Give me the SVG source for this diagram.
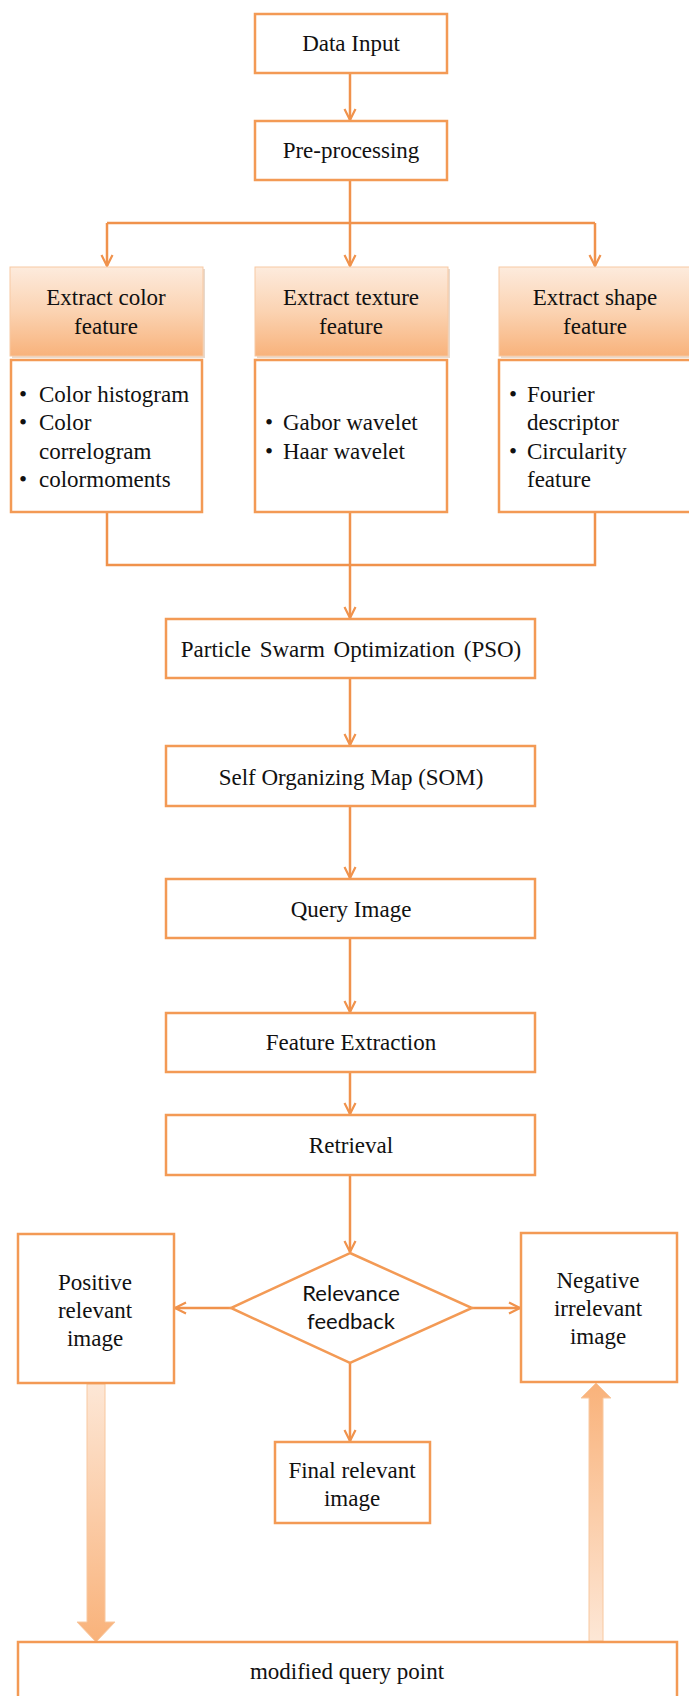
<svg xmlns="http://www.w3.org/2000/svg" width="689" height="1696" viewBox="0 0 689 1696">
<style>
.box{fill:#fff;stroke:#F39A55;stroke-width:2.5}
.hdr{stroke:#F7C9A3;stroke-width:1}
.t{font-family:"Liberation Serif","Times New Roman",serif;font-size:23px;fill:#111}
.c{text-anchor:middle}
.s{font-family:Lato,"Open Sans",sans-serif;font-size:22px;fill:#111;text-anchor:middle}
.ln{fill:none;stroke:#F0924C;stroke-width:2.5}
</style>
<defs>
<marker id="arr" viewBox="0 0 14 14" refX="12.5" refY="7" markerWidth="14" markerHeight="14" markerUnits="userSpaceOnUse" orient="auto">
<path d="M1.5,1.5 L12.5,7 L1.5,12.5" fill="none" stroke="#F0924C" stroke-width="2.2"/>
</marker>
<linearGradient id="hg" x1="0" y1="0" x2="0" y2="1">
<stop offset="0" stop-color="#FDEBDD"/>
<stop offset="0.5" stop-color="#FBD3B2"/>
<stop offset="1" stop-color="#F8B27B"/>
</linearGradient>
<linearGradient id="dn" x1="0" y1="0" x2="0" y2="1">
<stop offset="0" stop-color="#FDE7D6"/>
<stop offset="1" stop-color="#F9B27A"/>
</linearGradient>
<linearGradient id="up" x1="0" y1="1" x2="0" y2="0">
<stop offset="0" stop-color="#FDE7D6"/>
<stop offset="1" stop-color="#F9B27A"/>
</linearGradient>
</defs>

<g id="connectors">
<line class="ln" x1="350" y1="73" x2="350" y2="120" marker-end="url(#arr)"/>
<polyline class="ln" points="350,180 350,223"/>
<polyline class="ln" points="107,223 595,223"/>
<line class="ln" x1="107" y1="223" x2="107" y2="266" marker-end="url(#arr)"/>
<line class="ln" x1="350" y1="223" x2="350" y2="266" marker-end="url(#arr)"/>
<line class="ln" x1="595" y1="223" x2="595" y2="266" marker-end="url(#arr)"/>
<polyline class="ln" points="107,512 107,565 595,565 595,512"/>
<line class="ln" x1="350" y1="512" x2="350" y2="565"/>
<line class="ln" x1="350" y1="565" x2="350" y2="618" marker-end="url(#arr)"/>
<line class="ln" x1="350" y1="678" x2="350" y2="745" marker-end="url(#arr)"/>
<line class="ln" x1="350" y1="806" x2="350" y2="878" marker-end="url(#arr)"/>
<line class="ln" x1="350" y1="938" x2="350" y2="1012" marker-end="url(#arr)"/>
<line class="ln" x1="350" y1="1072" x2="350" y2="1114" marker-end="url(#arr)"/>
<line class="ln" x1="350" y1="1175" x2="350" y2="1252" marker-end="url(#arr)"/>
<line class="ln" x1="231" y1="1308" x2="175" y2="1308" stroke-width="3" marker-end="url(#arr)"/>
<line class="ln" x1="472" y1="1308" x2="520" y2="1308" stroke-width="3" marker-end="url(#arr)"/>
<line class="ln" x1="350" y1="1363" x2="350" y2="1441" marker-end="url(#arr)"/>
<path d="M87,1384 L105,1384 L105,1622 L115,1622 L96,1642 L77,1622 L87,1622 Z" fill="url(#dn)" stroke="#F8C8A0" stroke-width="1"/>
<path d="M589,1641 L603,1641 L603,1398 L611,1398 L596,1383 L581,1398 L589,1398 Z" fill="url(#up)" stroke="#F8C8A0" stroke-width="1"/>
</g>

<g id="data-input">
<rect class="box" x="255" y="14" width="192" height="59"/>
<text class="t c" x="351" y="51">Data Input</text>
</g>
<g id="pre-processing">
<rect class="box" x="255" y="121" width="192" height="59"/>
<text class="t c" x="351" y="158">Pre-processing</text>
</g>

<g id="color-feature">
<rect x="12" y="269" width="193" height="89" fill="#E8D9CC"/>
<rect class="hdr" x="10" y="267" width="193" height="89" fill="url(#hg)"/>
<text class="t c" x="106" y="305">Extract color</text>
<text class="t c" x="106" y="334">feature</text>
<rect class="box" x="11" y="360" width="191" height="152"/>
<text class="t" x="19" y="402">•</text><text class="t" x="39" y="402">Color histogram</text>
<text class="t" x="19" y="430">•</text><text class="t" x="39" y="430">Color</text>
<text class="t" x="39" y="459">correlogram</text>
<text class="t" x="19" y="487">•</text><text class="t" x="39" y="487">colormoments</text>
</g>

<g id="texture-feature">
<rect x="257" y="269" width="193" height="89" fill="#E8D9CC"/>
<rect class="hdr" x="255" y="267" width="193" height="89" fill="url(#hg)"/>
<text class="t c" x="351" y="305">Extract texture</text>
<text class="t c" x="351" y="334">feature</text>
<rect class="box" x="255" y="360" width="192" height="152"/>
<text class="t" x="265" y="430">•</text><text class="t" x="283" y="430">Gabor wavelet</text>
<text class="t" x="265" y="459">•</text><text class="t" x="283" y="459">Haar wavelet</text>
</g>

<g id="shape-feature">
<rect x="501" y="269" width="193" height="89" fill="#E8D9CC"/>
<rect class="hdr" x="499" y="267" width="193" height="89" fill="url(#hg)"/>
<text class="t c" x="595" y="305">Extract shape</text>
<text class="t c" x="595" y="334">feature</text>
<rect class="box" x="499" y="360" width="193" height="152"/>
<text class="t" x="509" y="402">•</text><text class="t" x="527" y="402">Fourier</text>
<text class="t" x="527" y="430">descriptor</text>
<text class="t" x="509" y="459">•</text><text class="t" x="527" y="459">Circularity</text>
<text class="t" x="527" y="487">feature</text>
</g>

<g id="pso">
<rect class="box" x="166" y="619" width="369" height="59"/>
<text class="t c" x="351" y="657" word-spacing="3">Particle Swarm Optimization (PSO)</text>
</g>
<g id="som">
<rect class="box" x="166" y="746" width="369" height="60"/>
<text class="t c" x="351" y="785">Self Organizing Map (SOM)</text>
</g>
<g id="query-image">
<rect class="box" x="166" y="879" width="369" height="59"/>
<text class="t c" x="351" y="917">Query Image</text>
</g>
<g id="feature-extraction">
<rect class="box" x="166" y="1013" width="369" height="59"/>
<text class="t c" x="351" y="1050">Feature Extraction</text>
</g>
<g id="retrieval">
<rect class="box" x="166" y="1115" width="369" height="60"/>
<text class="t c" x="351" y="1153">Retrieval</text>
</g>
<g id="relevance-feedback">
<polygon class="box" points="350,1253 472,1308 350,1363 231,1308"/>
<text class="s" x="351" y="1301">Relevance</text>
<text class="s" x="351" y="1329">feedback</text>
</g>
<g id="positive">
<rect class="box" x="18" y="1234" width="156" height="149"/>
<text class="t c" x="95" y="1290">Positive</text>
<text class="t c" x="95" y="1318">relevant</text>
<text class="t c" x="95" y="1346">image</text>
</g>
<g id="negative">
<rect class="box" x="521" y="1233" width="156" height="149"/>
<text class="t c" x="598" y="1288">Negative</text>
<text class="t c" x="598" y="1316">irrelevant</text>
<text class="t c" x="598" y="1344">image</text>
</g>
<g id="final-relevant">
<rect class="box" x="275" y="1442" width="155" height="81"/>
<text class="t c" x="352" y="1478">Final relevant</text>
<text class="t c" x="352" y="1506">image</text>
</g>
<g id="modified-query">
<rect class="box" x="18" y="1642" width="659" height="70"/>
<text class="t c" x="347" y="1679">modified query point</text>
</g>
</svg>
